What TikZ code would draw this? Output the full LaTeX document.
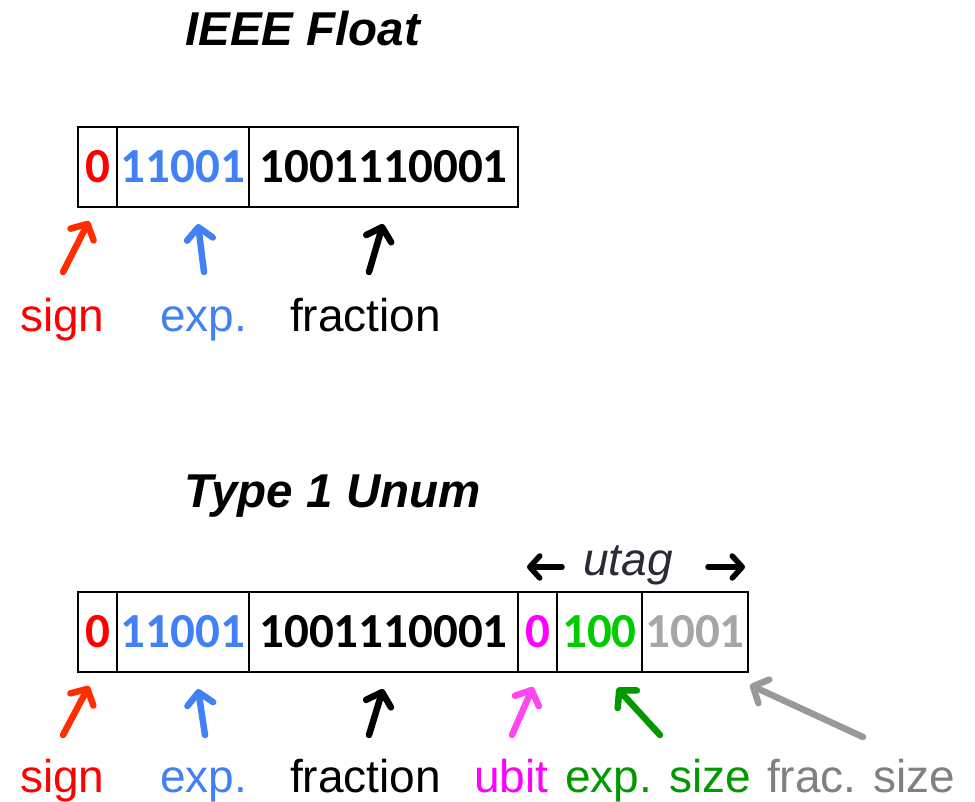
\documentclass[tikz,border=0pt]{standalone}
\usepackage{fontspec}
\setmainfont{Liberation Sans}
\newfontfamily\digitfont{Carlito}
\usetikzlibrary{arrows.meta}
\definecolor{sgnred}{RGB}{255,0,0}
\definecolor{sgnarrow}{RGB}{255,45,0}
\definecolor{expblue}{RGB}{66,128,245}
\definecolor{ubitmag}{RGB}{255,0,255}
\definecolor{ubitarrow}{RGB}{255,70,240}
\definecolor{esgreen}{RGB}{0,204,0}
\definecolor{estext}{RGB}{0,154,0}
\definecolor{fsgray}{RGB}{166,166,166}
\definecolor{fstext}{RGB}{128,128,128}
\definecolor{fsarrow}{RGB}{153,153,153}
\definecolor{utagcol}{RGB}{43,43,56}
\tikzset{
  cell/.style={draw=black, line width=2pt, inner sep=0pt, outer sep=0pt,
    minimum height=80pt, font=\digitfont\bfseries\fontsize{49}{52}\selectfont},
  lbl/.style={anchor=base west, inner sep=0pt, font=\fontsize{46}{50}\selectfont},
  ttl/.style={anchor=base west, inner sep=0pt, font=\bfseries\itshape\fontsize{47.5}{50}\selectfont},
  ptr/.style={line width=6.5pt, line cap=round,
    -{Straight Barb[length=12pt, width=26pt, round]}},
  uptr/.style={line width=5.5pt, line cap=round,
    -{Straight Barb[length=10pt, width=22pt, round]}},
  shadowed/.style={preaction={draw=black!25, opacity=0.35, transform canvas={shift={(1.5pt,-2pt)}}}}
}
\begin{document}
\begin{tikzpicture}[x=1pt, y=-1pt]
\useasboundingbox (0,0) rectangle (975,802);

% titles
\node[ttl] (t1) at (185,46) {IEEE Float};
\node[ttl] (t2) at (184,507) {Type 1 Unum};

% IEEE float cells
\node[cell, minimum width=39pt, text=sgnred] (s1) at (97.5,167) {0};
\node[cell, minimum width=132pt, text=expblue] (e1) at (183,167) {11001};
\node[cell, minimum width=269pt] (f1) at (383.5,167) {1001110001};

% labels top
\node[lbl, text=sgnred] (ls1) at (20,332) {sign};
\node[lbl, text=expblue] (le1) at (160,332) {exp.};
\node[lbl] (lf1) at (290,332) {fraction};

% arrows top
\coordinate (as1t) at (63,272); \coordinate (as1h) at (89,221);
\coordinate (ae1t) at (204,272); \coordinate (ae1h) at (198,224);
\coordinate (af1t) at (369,272); \coordinate (af1h) at (383,224);
\draw[ptr, shadowed, draw=sgnarrow] (as1t) -- (as1h);
\draw[ptr, shadowed, draw=expblue] (ae1t) -- (ae1h);
\draw[ptr, shadowed, draw=black] (af1t) -- (af1h);

% unum cells
\node[cell, minimum width=39pt, text=sgnred] (s2) at (97.5,632) {0};
\node[cell, minimum width=132pt, text=expblue] (e2) at (183,632) {11001};
\node[cell, minimum width=269pt] (f2) at (383.5,632) {1001110001};
\node[cell, minimum width=39pt, text=ubitmag] (u2) at (537.5,632) {0};
\node[cell, minimum width=85pt, text=esgreen] (es2) at (599.5,632) {100};
\node[cell, minimum width=106pt, text=fsgray] (fs2) at (695,632) {1001};

% utag
\node[lbl, text=utagcol, font=\itshape\fontsize{46}{50}\selectfont] (ut) at (583,575) {utag};
\coordinate (utlt) at (562,567); \coordinate (utlh) at (527,567);
\coordinate (utrt) at (708,567); \coordinate (utrh) at (745,567);
\draw[uptr, shadowed, draw=black] (utlt) -- (utlh);
\draw[uptr, shadowed, draw=black] (utrt) -- (utrh);

% labels bottom
\node[lbl, text=sgnred] (ls2) at (20,792) {sign};
\node[lbl, text=expblue] (le2) at (160,792) {exp.};
\node[lbl] (lf2) at (290,792) {fraction};
\node[lbl, text=ubitmag] (lu2) at (474,792) {ubit};
\node[lbl, text=estext] (les2) at (565,792) {exp. size};
\node[lbl, text=fstext] (lfs2) at (767,792) {frac. size};

% arrows bottom
\coordinate (as2t) at (63,735); \coordinate (as2h) at (89,686);
\coordinate (ae2t) at (205,735); \coordinate (ae2h) at (198,689);
\coordinate (af2t) at (369,735); \coordinate (af2h) at (383,689);
\coordinate (au2t) at (512,735); \coordinate (au2h) at (533,687);
\coordinate (aes2t) at (660,735); \coordinate (aes2h) at (617,688);
\coordinate (afs2t) at (863,737); \coordinate (afs2h) at (750,685);
\draw[ptr, shadowed, draw=sgnarrow] (as2t) -- (as2h);
\draw[ptr, shadowed, draw=expblue] (ae2t) -- (ae2h);
\draw[ptr, shadowed, draw=black] (af2t) -- (af2h);
\draw[ptr, shadowed, draw=ubitarrow] (au2t) -- (au2h);
\draw[ptr, shadowed, draw=estext] (aes2t) -- (aes2h);
\draw[ptr, shadowed, draw=fsarrow] (afs2t) -- (afs2h);
\end{tikzpicture}
\end{document}
